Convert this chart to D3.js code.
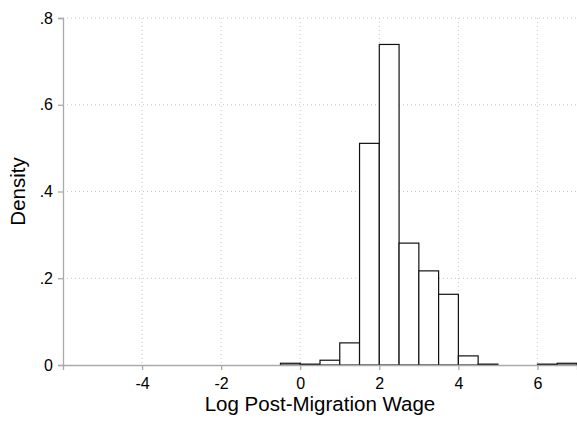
<!DOCTYPE html>
<html>
<head>
<meta charset="utf-8">
<script src="https://cdn.jsdelivr.net/npm/d3@7"></script>
<style>
  body { margin: 0; background: #fff; }
  text { font-family: "Liberation Sans", Arial, sans-serif; fill: #000; }
</style>
</head>
<body>
<div id="chart"></div>
<script>
// Histogram bins (left edges, width 0.5) and density values
const binStarts = [-0.5, 0, 0.5, 1, 1.5, 2, 2.5, 3, 3.5, 4, 4.5, 5, 5.5, 6, 6.5];
const densities = [0.004, 0.002, 0.011, 0.051, 0.511, 0.739, 0.281, 0.217, 0.163, 0.021, 0.002, 0, 0, 0.002, 0.004];
const binWidth = 0.5;
const xTicks = [-4, -2, 0, 2, 4, 6];
const yTicks = [0, 0.2, 0.4, 0.6, 0.8];

const width = 577, height = 422;
const margin = { top: 18, right: 0, bottom: 57, left: 63 };

const svg = d3.select("#chart").append("svg")
    .attr("width", width)
    .attr("height", height);

const x = d3.scaleLinear()
    .domain([-6, 7])
    .range([margin.left, width - margin.right]);

const y = d3.scaleLinear()
    .domain([0, 0.8])
    .range([height - margin.bottom, margin.top]);

// Grid lines (dotted)
svg.append("g").selectAll("line")
    .data(yTicks.filter(d => d > 0))
    .enter().append("line")
    .attr("x1", margin.left).attr("x2", width - margin.right)
    .attr("y1", d => y(d)).attr("y2", d => y(d))
    .attr("stroke", "#c8c8c8").attr("stroke-width", 1)
    .attr("stroke-dasharray", "1,3");

svg.append("g").selectAll("line")
    .data(xTicks)
    .enter().append("line")
    .attr("x1", d => x(d)).attr("x2", d => x(d))
    .attr("y1", margin.top).attr("y2", y(0))
    .attr("stroke", "#c8c8c8").attr("stroke-width", 1)
    .attr("stroke-dasharray", "1,3");

// Bars
svg.append("g").selectAll("rect")
    .data(binStarts.map((s, i) => ({ s, v: densities[i] })))
    .enter().append("rect")
    .attr("x", d => x(d.s))
    .attr("y", d => y(d.v))
    .attr("width", d => x(d.s + binWidth) - x(d.s))
    .attr("height", d => y(0) - y(d.v))
    .attr("fill", "#fff")
    .attr("stroke", "#111")
    .attr("stroke-width", 1.2);

// Axes
const xAxis = svg.append("g")
    .attr("transform", `translate(0,${y(0)})`)
    .call(d3.axisBottom(x).tickValues(xTicks).tickSize(5).tickPadding(8)
        .tickFormat(d => String(d)));

const yAxis = svg.append("g")
    .attr("transform", `translate(${margin.left},0)`)
    .call(d3.axisLeft(y).tickValues(yTicks).tickSize(5).tickPadding(5)
        .tickFormat(d => d === 0 ? "0" : d3.format(".1f")(d).replace(/^0/, "")));

[xAxis, yAxis].forEach(g => {
  g.select(".domain").attr("stroke", "#aaa").attr("stroke-width", 1.3);
  g.selectAll(".tick line").attr("stroke", "#aaa").attr("stroke-width", 1.3);
  g.selectAll(".tick text").attr("font-size", 16).attr("fill", "#000")
    .attr("font-family", "Liberation Sans, Arial, sans-serif");
});

// Axis titles
svg.append("text")
    .attr("x", (x(-6) + x(7)) / 2)
    .attr("y", 411)
    .attr("text-anchor", "middle")
    .attr("font-size", 20.5)
    .text("Log Post-Migration Wage");

svg.append("text")
    .attr("transform", `translate(25,${(y(0) + y(0.8)) / 2}) rotate(-90)`)
    .attr("text-anchor", "middle")
    .attr("font-size", 20.5)
    .text("Density");
</script>
</body>
</html>
